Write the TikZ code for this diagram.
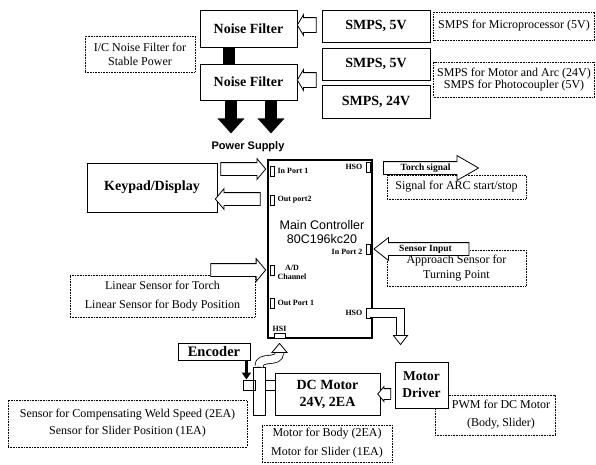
\documentclass[tikz,border=0pt]{standalone}
\usepackage{fontspec}
\setmainfont{Liberation Serif}
\setsansfont{Liberation Sans}
\usetikzlibrary{shapes.arrows,arrows.meta}
\tikzset{
  box/.style={draw, line width=0.9pt, inner sep=0pt, align=center,
    font=\bfseries\fontsize{14}{17}\selectfont},
  note/.style={draw, densely dotted, line width=0.6pt, fill=white, inner sep=0pt,
    align=center, font=\fontsize{12}{18}\selectfont},
  port/.style={draw, line width=0.8pt, fill=white, inner sep=0pt,
    minimum width=4pt, minimum height=10pt},
  plabel/.style={inner sep=0pt, font=\bfseries\fontsize{8}{9}\selectfont},
  harrow/.style={single arrow, draw, line width=0.8pt, fill=white, inner xsep=0pt,
    inner ysep=6pt, single arrow head indent=0pt, single arrow tip angle=100},
  harrowl/.style={harrow, shape border rotate=180},
  dbl/.style={double, double distance=7.5pt, line width=0.8pt},
  powerarrow/.style={line width=12pt, -{Triangle[width=26pt,length=15pt]}}
}
\begin{document}
\begin{tikzpicture}[x=1pt,y=-1pt]
  \useasboundingbox (0,0) rectangle (596,464);
  % power part
  \node[box, minimum width=97, minimum height=37] (nf1) at (248.5,28.5) {Noise Filter};
  \node[box, minimum width=97, minimum height=36] (nf2) at (248.5,82) {Noise Filter};
  \node[box, minimum width=108, minimum height=32] (smpsa) at (376,26) {SMPS, 5V};
  \node[box, minimum width=108, minimum height=32] (smpsb) at (376,64) {SMPS, 5V};
  \node[box, minimum width=108, minimum height=33] (smpsc) at (376,101.5) {SMPS, 24V};
  \node[note, minimum width=110, minimum height=36, font=\fontsize{12}{14}\selectfont] (icnote) at (140,54)
    {I/C Noise Filter for\\Stable Power};
  \node[note, minimum width=161, minimum height=28] (smpsnotea) at (514,26)
    {SMPS for Microprocessor (5V)};
  \node[note, minimum width=161, minimum height=35, font=\fontsize{12}{12.5}\selectfont] (smpsnoteb) at (514,79.5)
    {SMPS for Motor and Arc (24V)\\SMPS for Photocoupler (5V)};
  \node[harrowl, minimum height=19, inner ysep=7pt, single arrow head extend=3,
    single arrow tip angle=118] (sa1) at (309,25) {};
  \node[harrowl, minimum height=19, inner ysep=7pt, single arrow head extend=3,
    single arrow tip angle=118] (sa2) at (309,80) {};
  \draw[line width=12pt] ([xshift=-19.5pt]nf1.south) -- ([xshift=-19.5pt]nf2.north);
  \draw[powerarrow] ([xshift=-17.5pt]nf2.south) -- ++(0,33);
  \draw[powerarrow] ([xshift=22.5pt]nf2.south) -- ++(0,33);
  \node[font=\sffamily\bfseries\fontsize{11}{13}\selectfont] (pwr) at (248,147) {Power Supply};

  % controller
  \node[draw, line width=2pt, minimum width=104, minimum height=178] (mc) at (320,249) {};
  \node[font=\sffamily\fontsize{12.5}{14}\selectfont, align=center] (mcl) at (322,232)
    {Main Controller\\80C196kc20};
  \node[port] (ip1) at (272,171) {};
  \node[port] (op2) at (272,200) {};
  \node[port] (adc) at (272,270) {};
  \node[port] (op1) at (272,303) {};
  \node[port] (hso1) at (368,167) {};
  \node[port] (ip2) at (368,249) {};
  \node[port] (hso2) at (368,313) {};
  \node[port, minimum width=11, minimum height=5] (hsi) at (279.5,335.5) {};
  \node[plabel, anchor=west] (ip1l) at ([xshift=3pt]ip1.east) {In Port 1};
  \node[plabel, anchor=west] (op2l) at ([xshift=3pt]op2.east) {Out port2};
  \node[plabel, align=center] (adcl) at (292,272) {A/D\\Channel};
  \node[plabel, anchor=west] (op1l) at ([xshift=3pt]op1.east) {Out Port 1};
  \node[plabel, anchor=east] (hso1l) at ([xshift=-3pt]hso1.west) {HSO};
  \node[plabel, anchor=east] (ip2l) at ([xshift=-3pt,yshift=-3pt]ip2.west) {In Port 2};
  \node[plabel, anchor=east] (hso2l) at ([xshift=-3pt]hso2.west) {HSO};
  \node[plabel, anchor=south] (hsil) at ([yshift=1pt]hsi.north) {HSI};

  % left side
  \node[box, minimum width=130, minimum height=49] (kp) at (152,187.5) {Keypad/Display};
  \node[note, minimum width=185, minimum height=42, font=\fontsize{12}{19}\selectfont] (linnote) at (162.5,296)
    {Linear Sensor for Torch\\Linear Sensor for Body Position};
  \node[harrow, minimum height=45, single arrow head extend=4] (ka) at (240.5,169) {};
  \node[harrowl, minimum height=45, single arrow head extend=4] (kb) at (240.5,199) {};
  \node[harrow, minimum height=55, single arrow head extend=5] (la) at (235.5,270) {};

  % right side
  \node[note, minimum width=139, minimum height=24] (arcnote) at (456.5,187)
    {Signal for ARC start/stop};
  \node[note, minimum width=139, minimum height=36, font=\fontsize{12}{15}\selectfont] (appnote) at (456.5,268)
    {Approach Sensor for\\Turning Point};
  \node[harrow, minimum height=95, inner ysep=2pt, text height=6.5pt, text depth=1.5pt,
    single arrow head extend=6, single arrow tip angle=60,
    font=\bfseries\fontsize{9.5}{11}\selectfont] (torch) at (425.5,168) {Torch signal};
  \node[harrowl, minimum height=95, inner ysep=2pt, text height=6.5pt, text depth=1.5pt,
    single arrow head extend=5, single arrow tip angle=76,
    font=\bfseries\fontsize{9.5}{11}\selectfont] (sens) at (425.5,249) {Sensor Input};

  % motor part
  \node[note, minimum width=120, minimum height=40, font=\fontsize{12}{18}\selectfont] (pwmnote) at (495,415)
    {\hspace*{12pt}PWM for DC Motor\\\hspace*{12pt}(Body, Slider)};
  \node[box, minimum width=72, minimum height=17, font=\bfseries\fontsize{14.5}{17}\selectfont] (enc) at (214,351.5) {Encoder};
  \node[box, minimum width=12, minimum height=10] (shafta) at (249,385) {};
  \node[box, minimum width=12, minimum height=48] (coup) at (259,391) {};
  \node[box, minimum width=10, minimum height=10] (shaftb) at (270,385) {};
  \node[box, minimum width=105, minimum height=42] (dcm) at (327.5,394) {DC Motor\\24V, 2EA};
  \node[box, fill=white, minimum width=53, minimum height=46, font=\bfseries\fontsize{13.5}{17}\selectfont] (drv) at (421.5,385) {Motor\\Driver};
  \node[harrowl, minimum height=13, inner ysep=5pt, single arrow head extend=2] (da) at (386.5,394) {};
  \draw[line width=2.2pt, -{Triangle[width=9pt,length=7pt]}]
    ([xshift=-4pt]enc.south east) -- ([xshift=-4pt]enc.south east |- shafta.north);
  \coordinate (elb) at ([xshift=-21pt,yshift=26pt]drv.north);
  \draw[dbl] (hso2.east) -| (elb);
  \filldraw[fill=white, line width=0.8pt] ([xshift=-7pt]elb) -- ([yshift=-9pt]elb) -- ([xshift=7pt]elb) -- cycle;
  \coordinate (hsib) at ([yshift=-14pt]hsi.south);
  \draw[dbl] (coup.north) .. controls +(0,-12) and +(0,12) .. (hsib);
  \filldraw[fill=white, line width=0.8pt] ([xshift=-7.5pt]hsib) -- ([yshift=9pt]hsib) -- ([xshift=7.5pt]hsib) -- cycle;
  \node[note, minimum width=239, minimum height=47, font=\fontsize{12}{17}\selectfont] (weldnote) at (127.5,423.5)
    {Sensor for Compensating Weld Speed (2EA)\\Sensor for Slider Position (1EA)};
  \node[note, minimum width=130, minimum height=37, font=\fontsize{12}{19}\selectfont] (motnote) at (327,443.5)
    {Motor for Body (2EA)\\Motor for Slider (1EA)};
\end{tikzpicture}
\end{document}
